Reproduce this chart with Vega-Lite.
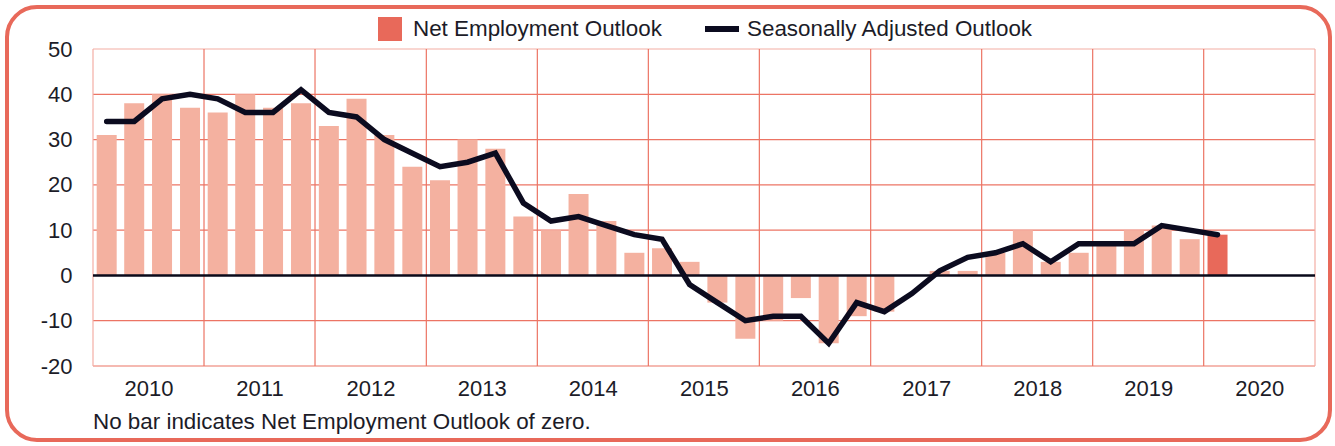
{
  "$schema": "https://vega.github.io/schema/vega-lite/v6.json",
  "width": 1323,
  "height": 433,
  "autosize": {"type": "none"},
  "padding": {"left": 7, "top": 7, "right": 5, "bottom": 6},
  "background": "white",
  "config": {
    "view": {"stroke": "#E8695A", "strokeWidth": 4, "cornerRadius": 30, "fill": "white"},
    "font": "Liberation Sans",
    "axis": {"labelFont": "Liberation Sans", "labelFontSize": 22, "labelColor": "#1c1c28"},
    "legend": {"labelFont": "Liberation Sans", "labelFontSize": 22.4, "labelColor": "#1c1c28", "labelLimit": 400, "padding": 0}
  },
  "title": {
    "text": "No bar indicates Net Employment Outlook of zero.",
    "orient": "bottom",
    "anchor": "start",
    "offset": 0,
    "dx": 86,
    "dy": -29,
    "fontSize": 22.4,
    "fontWeight": "normal",
    "color": "#1c1c28",
    "font": "Liberation Sans"
  },
  "datasets": {
    "quarters": [
      {"date": "2010-01-01", "neo": 31, "sa": 34, "status": "previous"},
      {"date": "2010-04-01", "neo": 38, "sa": 34, "status": "previous"},
      {"date": "2010-07-01", "neo": 40, "sa": 39, "status": "previous"},
      {"date": "2010-10-01", "neo": 37, "sa": 40, "status": "previous"},
      {"date": "2011-01-01", "neo": 36, "sa": 39, "status": "previous"},
      {"date": "2011-04-01", "neo": 40, "sa": 36, "status": "previous"},
      {"date": "2011-07-01", "neo": 37, "sa": 36, "status": "previous"},
      {"date": "2011-10-01", "neo": 38, "sa": 41, "status": "previous"},
      {"date": "2012-01-01", "neo": 33, "sa": 36, "status": "previous"},
      {"date": "2012-04-01", "neo": 39, "sa": 35, "status": "previous"},
      {"date": "2012-07-01", "neo": 31, "sa": 30, "status": "previous"},
      {"date": "2012-10-01", "neo": 24, "sa": 27, "status": "previous"},
      {"date": "2013-01-01", "neo": 21, "sa": 24, "status": "previous"},
      {"date": "2013-04-01", "neo": 30, "sa": 25, "status": "previous"},
      {"date": "2013-07-01", "neo": 28, "sa": 27, "status": "previous"},
      {"date": "2013-10-01", "neo": 13, "sa": 16, "status": "previous"},
      {"date": "2014-01-01", "neo": 10, "sa": 12, "status": "previous"},
      {"date": "2014-04-01", "neo": 18, "sa": 13, "status": "previous"},
      {"date": "2014-07-01", "neo": 12, "sa": 11, "status": "previous"},
      {"date": "2014-10-01", "neo": 5, "sa": 9, "status": "previous"},
      {"date": "2015-01-01", "neo": 6, "sa": 8, "status": "previous"},
      {"date": "2015-04-01", "neo": 3, "sa": -2, "status": "previous"},
      {"date": "2015-07-01", "neo": -6, "sa": -6, "status": "previous"},
      {"date": "2015-10-01", "neo": -14, "sa": -10, "status": "previous"},
      {"date": "2016-01-01", "neo": -10, "sa": -9, "status": "previous"},
      {"date": "2016-04-01", "neo": -5, "sa": -9, "status": "previous"},
      {"date": "2016-07-01", "neo": -15, "sa": -15, "status": "previous"},
      {"date": "2016-10-01", "neo": -9, "sa": -6, "status": "previous"},
      {"date": "2017-01-01", "neo": -8, "sa": -8, "status": "previous"},
      {"date": "2017-04-01", "neo": 0, "sa": -4, "status": "previous"},
      {"date": "2017-07-01", "neo": 1, "sa": 1, "status": "previous"},
      {"date": "2017-10-01", "neo": 1, "sa": 4, "status": "previous"},
      {"date": "2018-01-01", "neo": 5, "sa": 5, "status": "previous"},
      {"date": "2018-04-01", "neo": 10, "sa": 7, "status": "previous"},
      {"date": "2018-07-01", "neo": 3, "sa": 3, "status": "previous"},
      {"date": "2018-10-01", "neo": 5, "sa": 7, "status": "previous"},
      {"date": "2019-01-01", "neo": 7, "sa": 7, "status": "previous"},
      {"date": "2019-04-01", "neo": 10, "sa": 7, "status": "previous"},
      {"date": "2019-07-01", "neo": 11, "sa": 11, "status": "previous"},
      {"date": "2019-10-01", "neo": 8, "sa": 10, "status": "previous"},
      {"date": "2020-01-01", "neo": 9, "sa": 9, "status": "current"}
    ],
    "vgrid": [
      {"date": "2010-01-01"}, {"date": "2011-01-01"}, {"date": "2012-01-01"}, {"date": "2013-01-01"},
      {"date": "2014-01-01"}, {"date": "2015-01-01"}, {"date": "2016-01-01"}, {"date": "2017-01-01"},
      {"date": "2018-01-01"}, {"date": "2019-01-01"}, {"date": "2020-01-01"}, {"date": "2021-01-01"}
    ],
    "hgrid": [
      {"value": -20}, {"value": -10}, {"value": 10}, {"value": 20}, {"value": 30}, {"value": 40}, {"value": 50}
    ]
  },
  "layer": [
    {
      "data": {"name": "hgrid"},
      "mark": {"type": "rule", "strokeWidth": 1.2},
      "encoding": {
        "x": {
          "datum": {"year": 2010, "month": 1, "date": 1, "utc": true},
          "type": "temporal",
          "scale": {
            "type": "utc",
            "domain": [{"year": 2010, "month": 1, "date": 1, "utc": true}, {"year": 2021, "month": 1, "date": 1, "utc": true}],
            "range": [86, 1308]
          },
          "axis": {
            "orient": "bottom",
            "values": [
              {"year": 2010, "month": 1, "date": 1, "utc": true},
              {"year": 2011, "month": 1, "date": 1, "utc": true},
              {"year": 2012, "month": 1, "date": 1, "utc": true},
              {"year": 2013, "month": 1, "date": 1, "utc": true},
              {"year": 2014, "month": 1, "date": 1, "utc": true},
              {"year": 2015, "month": 1, "date": 1, "utc": true},
              {"year": 2016, "month": 1, "date": 1, "utc": true},
              {"year": 2017, "month": 1, "date": 1, "utc": true},
              {"year": 2018, "month": 1, "date": 1, "utc": true},
              {"year": 2019, "month": 1, "date": 1, "utc": true},
              {"year": 2020, "month": 1, "date": 1, "utc": true}
            ],
            "format": "%Y",
            "title": null,
            "domain": false,
            "ticks": false,
            "tickSize": 0,
            "grid": false,
            "labelOffset": 55.5,
            "labelPadding": 0,
            "labelFlush": false,
            "labelOverlap": false,
            "offset": -62
          }
        },
        "x2": {"datum": {"year": 2021, "month": 1, "date": 1, "utc": true}},
        "y": {
          "field": "value",
          "type": "quantitative",
          "scale": {"domain": [-20, 50], "range": [359, 42], "nice": false, "zero": false},
          "axis": {
            "orient": "left",
            "values": [-20, -10, 0, 10, 20, 30, 40, 50],
            "labelExpr": "'' + datum.value",
            "title": null,
            "domain": false,
            "ticks": false,
            "tickSize": 0,
            "grid": false,
            "labelPadding": 0,
            "labelFlush": false,
            "labelOverlap": false,
            "offset": -65
          }
        },
        "stroke": {"condition": {"test": "datum.value == 50", "value": "#F4ADA4"}, "value": "#EC7464"}
      }
    },
    {
      "data": {"name": "vgrid"},
      "mark": {"type": "rule", "strokeWidth": 1.2},
      "encoding": {
        "x": {"field": "date", "type": "temporal"},
        "y": {"datum": -20, "type": "quantitative"},
        "y2": {"datum": 50},
        "stroke": {"condition": {"test": "year(datum.date) == 2010 || year(datum.date) == 2021", "value": "#F4ADA4"}, "value": "#EC7464"}
      }
    },
    {
      "data": {"name": "quarters"},
      "mark": {"type": "bar", "width": 20},
      "encoding": {
        "x": {"field": "date", "timeUnit": "utcyearquarter", "type": "temporal", "bandPosition": 0.5},
        "y": {"field": "neo", "type": "quantitative"},
        "fill": {
          "field": "status",
          "type": "nominal",
          "scale": {"domain": ["current", "previous"], "range": ["#E8695A", "#F4B1A0"]},
          "legend": {
            "values": ["current"],
            "labelExpr": "'Net Employment Outlook'",
            "title": null,
            "orient": "none",
            "legendX": 371,
            "legendY": 10,
            "symbolType": "square",
            "symbolSize": 576,
            "symbolStrokeWidth": 0,
            "labelOffset": 11
          }
        }
      }
    },
    {
      "data": {"values": [{"value": 0}]},
      "mark": {"type": "rule", "strokeWidth": 2.5, "color": "#0A0A1A"},
      "encoding": {
        "x": {"datum": {"year": 2010, "month": 1, "date": 1, "utc": true}, "type": "temporal"},
        "x2": {"datum": {"year": 2021, "month": 1, "date": 1, "utc": true}},
        "y": {"field": "value", "type": "quantitative"}
      }
    },
    {
      "data": {"name": "quarters"},
      "mark": {"type": "line", "strokeWidth": 5.5, "strokeCap": "round", "strokeJoin": "miter"},
      "encoding": {
        "x": {"field": "date", "timeUnit": "utcyearquarter", "type": "temporal", "bandPosition": 0.5},
        "y": {"field": "sa", "type": "quantitative"},
        "stroke": {
          "datum": "Seasonally Adjusted Outlook",
          "type": "nominal",
          "scale": {"range": ["#0B0B1F"]},
          "legend": {
            "title": null,
            "orient": "none",
            "legendX": 695,
            "legendY": 2,
            "symbolType": "stroke",
            "symbolSize": 1156,
            "symbolStrokeWidth": 6,
            "labelOffset": 5
          }
        }
      }
    }
  ]
}
